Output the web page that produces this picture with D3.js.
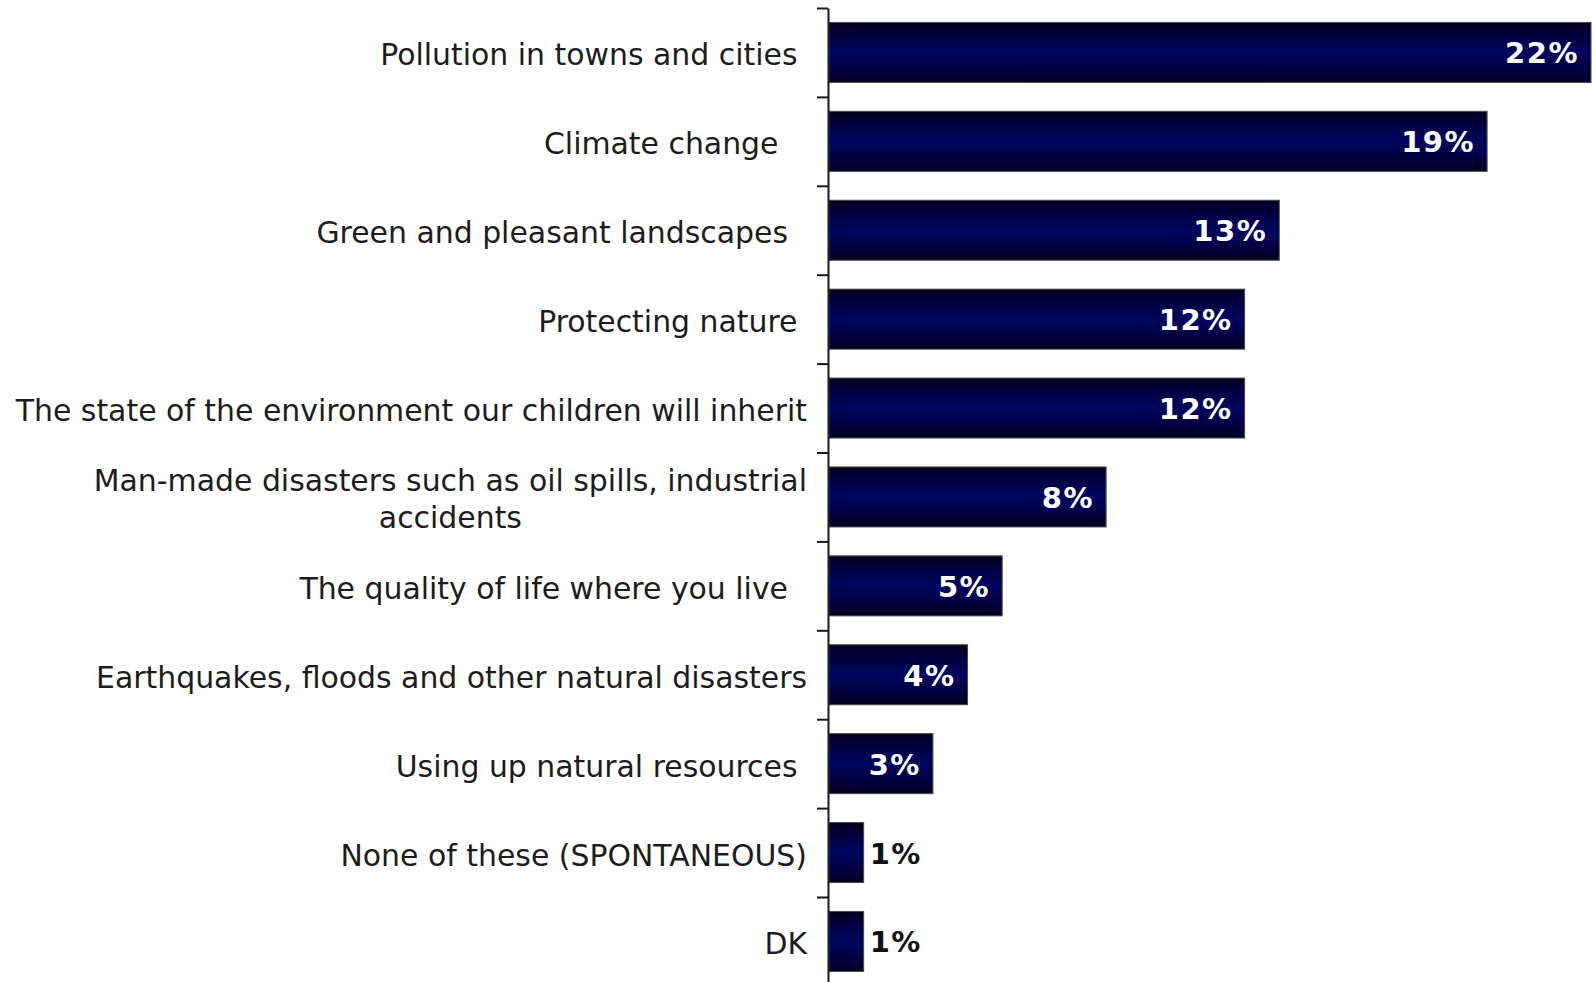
<!DOCTYPE html>
<html>
<head>
<meta charset="utf-8">
<script src="https://cdn.jsdelivr.net/npm/d3@7"></script>
<style>
  html, body { margin: 0; padding: 0; background: #ffffff; }
  svg { display: block; }
</style>
</head>
<body>
<svg id="chart" width="1596" height="982"></svg>
<script>
// ---- data ----
const categories = [
  "Pollution in towns and cities ",
  "Climate change   ",
  "Green and pleasant landscapes  ",
  "Protecting nature ",
  "The state of the environment our children will inherit",
  "Man-made disasters such as oil spills, industrial\naccidents",
  "The quality of life where you live  ",
  "Earthquakes, floods and other natural disasters",
  "Using up natural resources ",
  "None of these (SPONTANEOUS)",
  "DK"
];
const values = [22, 19, 13, 12, 12, 8, 5, 4, 3, 1, 1];
const valueLabels = ["22%", "19%", "13%", "12%", "12%", "8%", "5%", "4%", "3%", "1%", "1%"];

// ---- layout ----
const axisX = 828;
const plotTop = 8, step = 88.9;
const svg = d3.select("#chart");

const y = d3.scaleBand()
  .domain(categories)
  .range([plotTop, plotTop + step * categories.length])
  .paddingInner(0.325)
  .paddingOuter(0.1625);

const x = d3.scaleLinear().domain([0, 22]).range([axisX + 1, 1591]);

// gradient
const defs = svg.append("defs");
const grad = defs.append("linearGradient").attr("id", "barGrad")
  .attr("x1", 0).attr("y1", 0).attr("x2", 0).attr("y2", 1);
[[0, "#00001e"], [0.18, "#00003c"], [0.5, "#000660"], [0.82, "#00003c"], [1, "#00001e"]]
  .forEach(([o, c]) => grad.append("stop").attr("offset", o).attr("stop-color", c));

// bars
const data = categories.map((c, i) => ({ c, v: values[i], lab: valueLabels[i] }));
svg.append("g").selectAll("rect").data(data).join("rect")
  .attr("x", x(0))
  .attr("y", d => y(d.c))
  .attr("width", d => x(d.v) - x(0))
  .attr("height", y.bandwidth())
  .attr("fill", "url(#barGrad)")
  .attr("stroke", "#4a4a4a")
  .attr("stroke-width", 1);

// axis with ticks at band boundaries
const idx = d3.scaleLinear().domain([0, categories.length]).range(y.range());
const axis = svg.append("g").attr("transform", `translate(${axisX},0)`)
  .call(d3.axisLeft(idx).tickValues(d3.range(0, categories.length + 1))
    .tickFormat("").tickSize(11).tickSizeOuter(0));
axis.select(".domain").attr("stroke", "#1a1a1a").attr("stroke-width", 2);
axis.selectAll(".tick line").attr("stroke", "#1a1a1a").attr("stroke-width", 2);

// category labels
const labelRight = 807;
const catFont = 29.9;
const lg = svg.append("g")
  .attr("font-family", "'DejaVu Sans', Verdana, sans-serif")
  .attr("font-size", catFont)
  .attr("fill", "#1c1c1c");
data.forEach(d => {
  const lines = d.c.split("\n");
  const cy = y(d.c) + y.bandwidth() / 2;
  const lineH = 37;
  if (lines.length === 1) {
    lg.append("text")
      .attr("x", labelRight).attr("y", cy + 13)
      .attr("text-anchor", "end")
      .style("white-space", "pre")
      .text(lines[0]);
  } else {
    const t = lg.append("text").style("white-space", "pre");
    const spans = lines.map((ln, i) => t.append("tspan")
      .attr("y", cy + 13 + (i - (lines.length - 1) / 2) * lineH)
      .text(ln));
    const maxW = d3.max(spans, s => s.node().getComputedTextLength());
    spans.forEach(s => s.attr("x", labelRight - maxW / 2).attr("text-anchor", "middle"));
  }
});

// value labels
const vg = svg.append("g")
  .attr("font-family", "'DejaVu Sans', Verdana, sans-serif")
  .attr("font-weight", "bold")
  .attr("font-size", 29)
  .attr("letter-spacing", 1.5);
data.forEach(d => {
  const cy = y(d.c) + y.bandwidth() / 2;
  const barW = x(d.v) - x(0);
  const t = vg.append("text").attr("y", cy + 11).text(d.lab);
  const tw = t.node().getComputedTextLength();
  if (barW > tw + 20) {
    t.attr("x", x(d.v) - 12).attr("text-anchor", "end").attr("fill", "#ffffff");
  } else {
    t.attr("x", x(d.v) + 6).attr("text-anchor", "start").attr("fill", "#111111");
  }
});
</script>
</body>
</html>
